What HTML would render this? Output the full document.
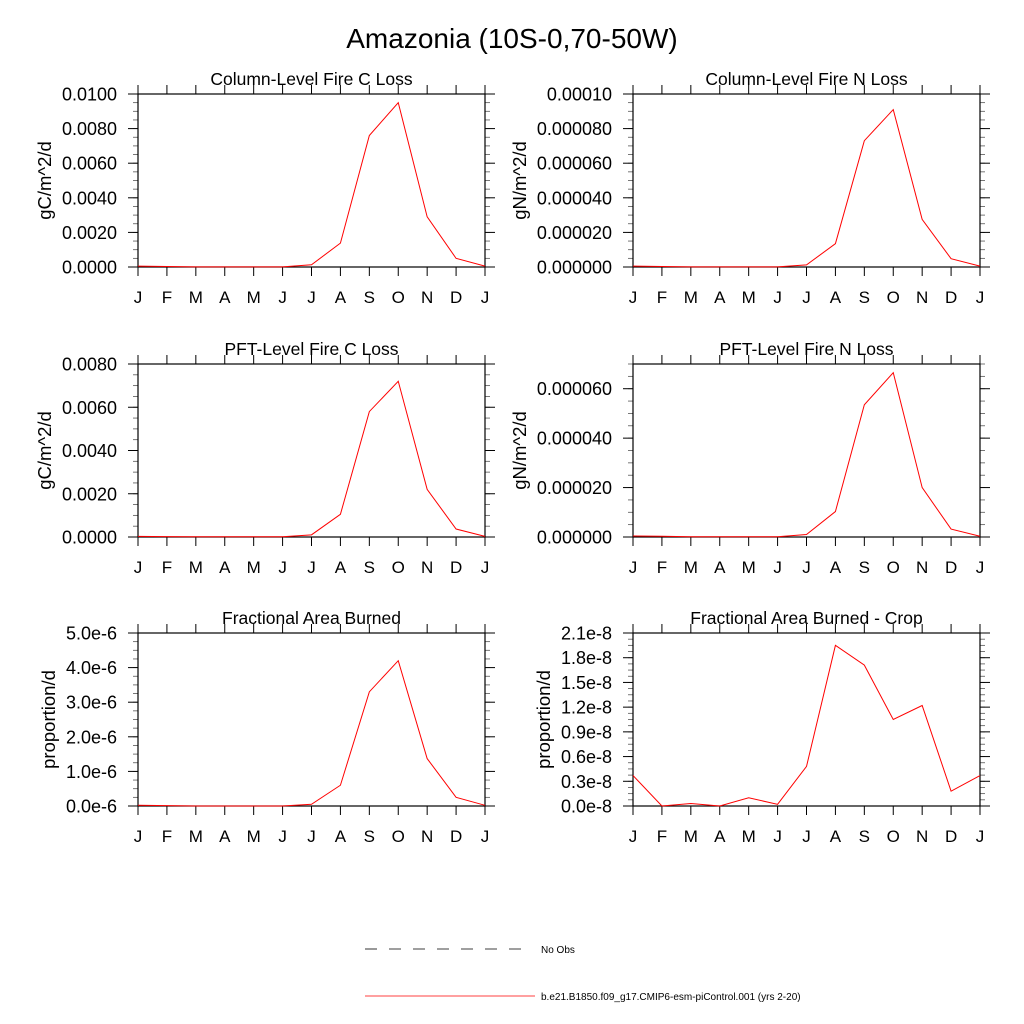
<!DOCTYPE html>
<html><head><meta charset="utf-8"><style>
body{margin:0;background:#fff;}
svg{display:block;font-family:"Liberation Sans",sans-serif;}
</style></head><body>
<svg id="chart" width="1024" height="1024" viewBox="0 0 1024 1024">
<text x="512" y="48" font-size="28" text-anchor="middle">Amazonia (10S-0,70-50W)</text>
<g id="panels"></g>
<g>
<line x1="365" y1="949" x2="530" y2="949" stroke="#000" stroke-width="0.8" stroke-dasharray="12,12"/>
<text x="541" y="953" font-size="10">No Obs</text>
<line x1="365" y1="996" x2="535" y2="996" stroke="#f00" stroke-width="0.8"/>
<text x="541" y="1000" font-size="10">b.e21.B1850.f09_g17.CMIP6-esm-piControl.001 (yrs 2-20)</text>
</g>
</svg>
<script>
const months = ["J","F","M","A","M","J","J","A","S","O","N","D","J"];
const colC = [0.00005,0.00003,0.00001,0.00001,0.00001,0.00001,0.00013,0.00138,0.0076,0.0095,0.0029,0.0005,0.00005];
const colN = [5e-7,3e-7,1e-7,1e-7,1e-7,1e-7,1.2e-6,1.35e-5,7.3e-5,9.1e-5,2.75e-5,4.8e-6,5e-7];
const pftC = [3e-5,2e-5,1e-5,1e-5,1e-5,1e-5,1e-4,1.05e-3,5.8e-3,7.2e-3,2.2e-3,3.7e-4,3e-5];
const pftN = [4e-7,3e-7,1e-7,1e-7,1e-7,1e-7,1e-6,1.03e-5,5.35e-5,6.65e-5,2.0e-5,3.2e-6,3e-7];
const fab = [2e-8,1e-8,0,0,0,0,5e-8,6e-7,3.3e-6,4.2e-6,1.37e-6,2.5e-7,2e-8];
const fabCrop = [0.37e-8,0,0.03e-8,0,0.1e-8,0.02e-8,0.48e-8,1.95e-8,1.71e-8,1.05e-8,1.22e-8,0.18e-8,0.37e-8];
const colCTicks = ["0.0000","0.0020","0.0040","0.0060","0.0080","0.0100"];
const colNTicks = ["0.000000","0.000020","0.000040","0.000060","0.000080","0.00010"];
const pftCTicks = ["0.0000","0.0020","0.0040","0.0060","0.0080"];
const pftNTicks = ["0.000000","0.000020","0.000040","0.000060"];
const fabTicks = ["0.0e-6","1.0e-6","2.0e-6","3.0e-6","4.0e-6","5.0e-6"];
const cropTicks = ["0.0e-8","0.3e-8","0.6e-8","0.9e-8","1.2e-8","1.5e-8","1.8e-8","2.1e-8"];

const NS="http://www.w3.org/2000/svg";
const root=document.getElementById('panels');
function mk(t,a,p){const e=document.createElementNS(NS,t);for(const k in a)e.setAttribute(k,a[k]);p.appendChild(e);return e;}

const panels=[
 {name:'column-fire-c',title:'Column-Level Fire C Loss',ylab:'gC/m^2/d',x:138,y:94,data:colC,ticks:colCTicks,step:0.002,max:0.01},
 {name:'column-fire-n',title:'Column-Level Fire N Loss',ylab:'gN/m^2/d',x:633,y:94,data:colN,ticks:colNTicks,step:2e-5,max:1e-4},
 {name:'pft-fire-c',title:'PFT-Level Fire C Loss',ylab:'gC/m^2/d',x:138,y:364,data:pftC,ticks:pftCTicks,step:0.002,max:0.008},
 {name:'pft-fire-n',title:'PFT-Level Fire N Loss',ylab:'gN/m^2/d',x:633,y:364,data:pftN,ticks:pftNTicks,step:2e-5,max:7e-5},
 {name:'frac-area-burned',title:'Fractional Area Burned',ylab:'proportion/d',x:138,y:633,data:fab,ticks:fabTicks,step:1e-6,max:5e-6},
 {name:'frac-area-burned-crop',title:'Fractional Area Burned - Crop',ylab:'proportion/d',x:633,y:633,data:fabCrop,ticks:cropTicks,step:0.3e-8,max:2.1e-8}
];
const W=347,H=173;
panels.forEach(p=>{
 const g=mk('g',{},root);
 
 
 const xs=i=>p.x+i*W/(months.length-1);
 const ys=v=>p.y+H-v/p.max*H;
 const t=mk('text',{x:p.x+W/2,y:p.y-9,'font-size':17.5,'text-anchor':'middle'},g);t.textContent=p.title;
 
 
 const minor=p.step/4;
 for(let v=0;v<=p.max+1e-20;v+=minor){const y=ys(v);
  mk('line',{x1:p.x-5,x2:p.x,y1:y,y2:y,stroke:'#555','stroke-width':0.8},g);
  mk('line',{x1:p.x+W,x2:p.x+W+5,y1:y,y2:y,stroke:'#555','stroke-width':0.8},g);}
 let maxW=0;
 p.ticks.forEach((lab,i)=>{const y=ys(i*p.step);
  mk('line',{x1:p.x-10,x2:p.x,y1:y,y2:y,stroke:'#000',},g);
  mk('line',{x1:p.x+W,x2:p.x+W+10,y1:y,y2:y,stroke:'#000'},g);
  const tx=mk('text',{x:p.x-21,y:y+6.5,'font-size':18,'text-anchor':'end'},g);tx.textContent=lab;
  
  
  maxW=Math.max(maxW,tx.getComputedTextLength());});
 const yx=p.x-21-maxW-11;
 const yl=mk('text',{transform:`translate(${yx},${p.y+H/2}) rotate(-90)`,'font-size':18.5,'text-anchor':'middle'},g);yl.textContent=p.ylab;
 
 
 months.forEach((m,i)=>{const x=xs(i);
  mk('line',{x1:x,x2:x,y1:p.y-9,y2:p.y,stroke:'#000'},g);
  mk('line',{x1:x,x2:x,y1:p.y+H,y2:p.y+H+9,stroke:'#000'},g);
  const tx=mk('text',{x:x,y:p.y+H+36,'font-size':17,'text-anchor':'middle'},g);tx.textContent=m;
  
  });
 const fr=mk('rect',{x:p.x,y:p.y,width:W,height:H,fill:'none',stroke:'#000','stroke-width':1.2},g);
 
 
 const pl=mk('polyline',{points:p.data.map((v,i)=>xs(i)+','+ys(v)).join(' '),fill:'none',stroke:'#f00','stroke-width':1},g);
 
 
});
</script>
</body></html>
